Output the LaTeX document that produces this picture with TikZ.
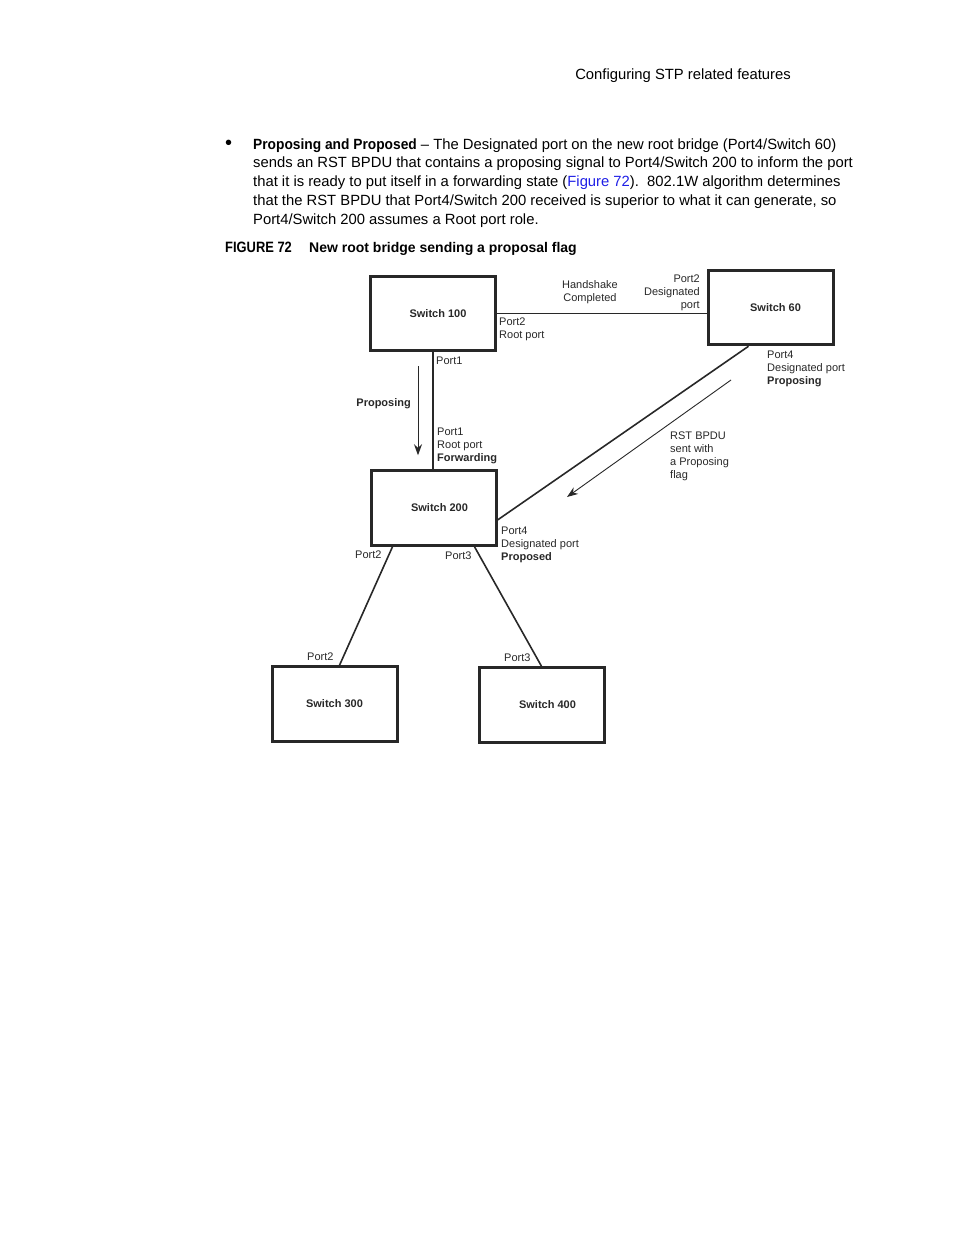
\documentclass[tikz,border=0pt]{standalone}
\usepackage{fontspec}
\setmainfont{Liberation Sans}
\newfontfamily\condfont[FakeStretch=0.86]{Liberation Sans}
\newfontfamily\leadfont[FakeStretch=0.93]{Liberation Sans}
\usetikzlibrary{calc}
\usetikzlibrary{arrows.meta}
\definecolor{linkblue}{RGB}{30,30,230}
\definecolor{ink}{RGB}{40,40,40}

\tikzset{
  switch/.style={draw=ink, line width=3pt, minimum width=125pt, minimum height=74.5pt},
  swname/.style={font=\fontsize{11}{13}\selectfont\bfseries, text=ink},
  lbl/.style={inner sep=0pt, font=\fontsize{11}{13}\selectfont, text=ink},
  body/.style={inner sep=0pt, anchor=base west, font=\fontsize{14.8}{18.75}\selectfont},
  link/.style={ink, line width=1.6pt},
  flow/.style={ink, line width=0.9pt, -{Stealth[length=11pt,width=8pt]}},
}

\begin{document}
\begin{tikzpicture}[x=1pt,y=-1pt]
\useasboundingbox (0,0) rectangle (954,1235);

% page text
\node[body, anchor=base east] (head) at (791,79) {Configuring STP related features};
\node[body, font=\fontsize{20}{20}\selectfont] (dot) at (225,149) {\textbullet};
\foreach \txt [count=\i] in {%
  {{\leadfont\bfseries Proposing and Proposed} -- The Designated port on the new root bridge (Port4/Switch 60)},
  {sends an RST BPDU that contains a proposing signal to Port4/Switch 200 to inform the port},
  {that it is ready to put itself in a forwarding state (\textcolor{linkblue}{Figure 72}).\ \ 802.1W algorithm determines},
  {that the RST BPDU that Port4/Switch 200 received is superior to what it can generate, so},
  {Port4/Switch 200 assumes a Root port role.}}
  \node[body] (line\i) at (253,{149+18.75*(\i-1)}) {\txt};
\node[body, font=\fontsize{15}{18}\selectfont\condfont\bfseries] (fignum) at (225,252) {FIGURE 72};
\node[body, font=\fontsize{14}{18}\selectfont\bfseries] (figtitle) at (309,252) {New root bridge sending a proposal flag};

% switches
\node[switch, label={[swname,xshift=5pt]center:Switch 100}] (s100) at (433,313.5) {};
\node[switch, label={[swname,xshift=5pt]center:Switch 60}] (s60) at (770.5,307.5) {};
\node[switch, label={[swname,xshift=6pt]center:Switch 200}] (s200) at (433.5,508) {};
\node[switch, label={[swname]center:Switch 300}] (s300) at (334.5,704) {};
\node[switch, label={[swname,xshift=6pt]center:Switch 400}] (s400) at (541.5,705) {};

% links
\draw[link] (s100.east) -- (s100.east -| s60.west);
\draw[link, line width=2.2pt] (s100.south) -- (s100.south |- s200.north);
\draw[link] ($(s60.south west)+(42,0)$) -- ($(s200.east)+(0,12)$);
\draw[link] ($(s200.south west)+(23,0)$) -- ($(s300.north west)+(69,0)$);
\draw[link] ($(s200.south east)+(-23,0)$) -- (s400.north);

% messages
\coordinate (prop a) at ($(s100.south)+(-15,14)$);
\coordinate (prop b) at ($(s200.north)+(-15.5,-14)$);
\draw[flow] (prop a) -- (prop b);
\coordinate (rst a) at (731,380);
\coordinate (rst b) at (567,497);
\draw[flow] (rst a) -- (rst b);

% port labels
\node[lbl, align=center, anchor=north] (hs) at (590,280) {Handshake\\Completed};
\node[lbl, align=right, anchor=north east] (p60a) at (700,275) {Port2\\Designated\\port};
\node[lbl, align=left, anchor=north west] (p100a) at (499,318) {Port2\\Root port};
\node[lbl, anchor=north west] (p100b) at (436,357) {Port1};
\node[lbl, align=left, anchor=north west] (p60b) at (767,351) {Port4\\Designated port\\\textbf{Proposing}};
\node[lbl, anchor=north east, font=\fontsize{11}{13}\selectfont\bfseries] (propt) at (411,398) {Proposing};
\node[lbl, align=left, anchor=north west] (p200a) at (437,428) {Port1\\Root port\\\textbf{Forwarding}};
\node[lbl, align=left, anchor=north west] (rstt) at (670,432) {RST BPDU\\sent with\\a Proposing\\flag};
\node[lbl, align=left, anchor=north west] (p200b) at (501,527) {Port4\\Designated port\\\textbf{Proposed}};
\node[lbl, anchor=north west] (p200c) at (355,551) {Port2};
\node[lbl, anchor=north west] (p200d) at (445,552) {Port3};
\node[lbl, anchor=north west] (p300) at (307,653) {Port2};
\node[lbl, anchor=north west] (p400) at (504,654) {Port3};
\end{tikzpicture}
\end{document}
